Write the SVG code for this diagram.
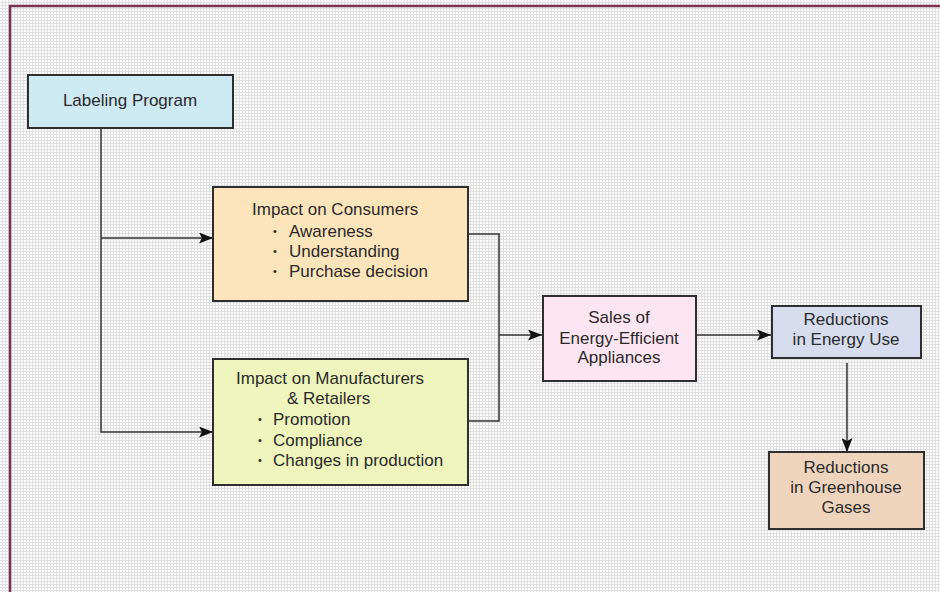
<svg xmlns="http://www.w3.org/2000/svg" width="940" height="592" viewBox="0 0 940 592">
  <defs>
    <pattern id="grid" width="3" height="3" patternUnits="userSpaceOnUse">
      <rect width="3" height="3" fill="#fcfcfc"/>
      <rect x="2" y="0" width="1" height="3" fill="#e0e0e0"/>
      <rect x="0" y="2" width="3" height="1" fill="#e0e0e0"/>
    </pattern>
    <marker id="arrow" viewBox="0 0 14 11" refX="14" refY="5.5" markerWidth="14" markerHeight="11" markerUnits="userSpaceOnUse" orient="auto">
      <path d="M0,0 L14,5.5 L0,11 L3,5.5 Z" fill="#111"/>
    </marker>
    <style>
      .box { stroke: #2e2e2e; stroke-width: 2; }
      .lbl { font-family: "Liberation Sans", Arial, sans-serif; font-size: 17px; fill: #2a2a2a; }
      .dot { font-family: "Liberation Sans", Arial, sans-serif; font-size: 11px; fill: #2a2a2a; }
      .mid { text-anchor: middle; }
      .wire { fill: none; stroke: #333; stroke-width: 1.5; }
    </style>
  </defs>

  <!-- page -->
  <rect width="940" height="592" fill="url(#grid)"/>
  <path d="M9,6 H940 M10,5 V592" fill="none" stroke="#7b3152" stroke-width="2.5"/>

  <!-- connectors -->
  <g id="connectors">
    <path class="wire" d="M101,128 V432 H213" marker-end="url(#arrow)"/>
    <path class="wire" d="M101,238 H213" marker-end="url(#arrow)"/>
    <path class="wire" d="M468,234 H499 V421 H468"/>
    <path class="wire" d="M499,335 H542" marker-end="url(#arrow)"/>
    <path class="wire" d="M696,335 H771" marker-end="url(#arrow)"/>
    <path class="wire" d="M847,363 V452" marker-end="url(#arrow)"/>
  </g>

  <g id="labeling-program">
    <rect class="box" x="28" y="75" width="205" height="53" fill="#cde9f2"/>
    <text class="lbl mid" x="130" y="106">Labeling Program</text>
  </g>

  <g id="impact-consumers">
    <rect class="box" x="213" y="187" width="255" height="114" fill="#fde5bb"/>
    <text class="lbl" x="252" y="215">Impact on Consumers</text>
    <text class="dot" x="273" y="235">•</text>
    <text class="lbl" x="289" y="237">Awareness</text>
    <text class="dot" x="273" y="255">•</text>
    <text class="lbl" x="289" y="257">Understanding</text>
    <text class="dot" x="273" y="275">•</text>
    <text class="lbl" x="289" y="277">Purchase decision</text>
  </g>

  <g id="impact-manufacturers">
    <rect class="box" x="213" y="359" width="255" height="126" fill="#eef5bc"/>
    <text class="lbl" x="236" y="384">Impact on Manufacturers</text>
    <text class="lbl" x="287" y="404">&amp; Retailers</text>
    <text class="dot" x="258" y="423">•</text>
    <text class="lbl" x="273" y="425">Promotion</text>
    <text class="dot" x="258" y="444">•</text>
    <text class="lbl" x="273" y="446">Compliance</text>
    <text class="dot" x="258" y="464">•</text>
    <text class="lbl" x="273" y="466">Changes in production</text>
  </g>

  <g id="sales">
    <rect class="box" x="543" y="296" width="153" height="85" fill="#fde6f2"/>
    <text class="lbl mid" x="619" y="323">Sales of</text>
    <text class="lbl mid" x="619" y="344">Energy-Efficient</text>
    <text class="lbl mid" x="619" y="363">Appliances</text>
  </g>

  <g id="energy-use">
    <rect class="box" x="772" y="306" width="149" height="52" fill="#d6dcee"/>
    <text class="lbl mid" x="846" y="325">Reductions</text>
    <text class="lbl mid" x="846" y="345">in Energy Use</text>
  </g>

  <g id="greenhouse-gases">
    <rect class="box" x="769" y="452" width="155" height="77" fill="#efd4bd"/>
    <text class="lbl mid" x="846" y="473">Reductions</text>
    <text class="lbl mid" x="846" y="493">in Greenhouse</text>
    <text class="lbl mid" x="846" y="513">Gases</text>
  </g>
</svg>
